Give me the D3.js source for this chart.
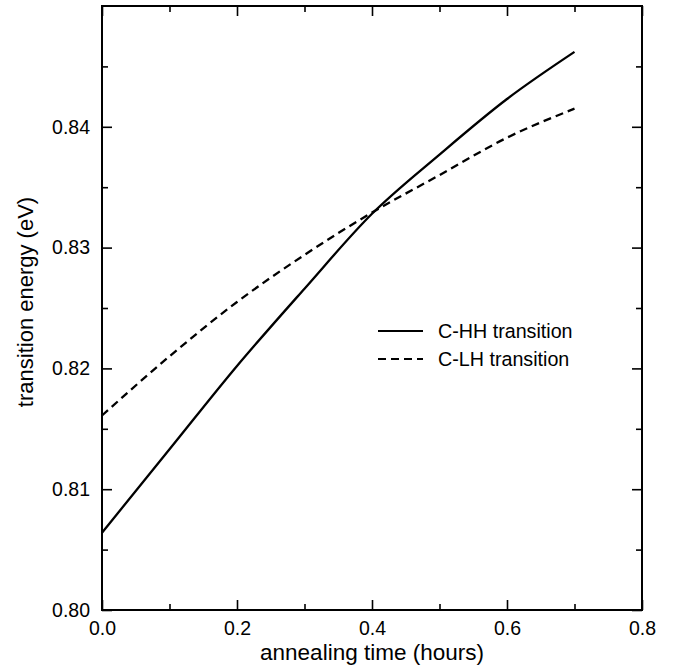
<!DOCTYPE html>
<html>
<head>
<meta charset="utf-8">
<script src="https://cdn.jsdelivr.net/npm/d3@7"></script>
<style>
  body { margin: 0; background: #fff; }
  text { font-family: "Liberation Sans", Arial, sans-serif; fill: #000; }
</style>
</head>
<body>
<div id="chart"></div>
<script>
// values
var times = [0, 0.1, 0.2, 0.3, 0.4, 0.5, 0.6, 0.7];
var hhEnergy = [0.8064, 0.8133, 0.8202, 0.8266, 0.8328, 0.8377, 0.8423, 0.8462];
var lhEnergy = [0.8161, 0.8210, 0.8255, 0.8294, 0.8329, 0.8360, 0.8391, 0.8415];
var seriesNames = ["C-HH transition", "C-LH transition"];
var xMajor = [0, 0.2, 0.4, 0.6, 0.8];
var xMinor = [0.1, 0.3, 0.5, 0.7];
var yMajor = [0.80, 0.81, 0.82, 0.83, 0.84];
var yMinor = [0.805, 0.815, 0.825, 0.835, 0.845];

var w = 674;
var h = 669;
var plotL = 102, plotR = 642, plotT = 6, plotB = 610;

var svg = d3.select("#chart")
  .append("svg")
  .attr("width", w)
  .attr("height", h);

var x = d3.scaleLinear().domain([0, 0.8]).range([plotL, plotR]);
var y = d3.scaleLinear().domain([0.80, 0.85]).range([plotB, plotT]);

//ticks on all four sides, pointing in
function ticks(axis, vals, len, labels, pad) {
  return axis
    .tickValues(vals)
    .tickSizeInner(-len)
    .tickSizeOuter(0)
    .tickPadding(pad || 3)
    .tickFormat(labels ? labels : "");
}

svg.append("g").attr("transform", "translate(0," + plotB + ")")
  .call(ticks(d3.axisBottom(x), xMajor, 10, d3.format(".1f"), 11));
svg.append("g").attr("transform", "translate(0," + plotB + ")")
  .call(ticks(d3.axisBottom(x), xMinor, 6));
svg.append("g").attr("transform", "translate(0," + plotT + ")")
  .call(ticks(d3.axisTop(x), xMajor, 10));
svg.append("g").attr("transform", "translate(0," + plotT + ")")
  .call(ticks(d3.axisTop(x), xMinor, 6));

svg.append("g").attr("transform", "translate(" + plotL + ",0)")
  .call(ticks(d3.axisLeft(y), yMajor, 10, d3.format(".2f"), 12));
svg.append("g").attr("transform", "translate(" + plotL + ",0)")
  .call(ticks(d3.axisLeft(y), yMinor, 6));
svg.append("g").attr("transform", "translate(" + plotR + ",0)")
  .call(ticks(d3.axisRight(y), yMajor, 10));
svg.append("g").attr("transform", "translate(" + plotR + ",0)")
  .call(ticks(d3.axisRight(y), yMinor, 6));

svg.selectAll(".domain").remove();
svg.selectAll(".tick line").attr("stroke", "#000").attr("stroke-width", 1.6);
svg.selectAll(".tick text")
  .attr("font-family", null)
  .style("font-size", "19.5px");

//frame
svg.append("rect")
  .attr("x", plotL)
  .attr("y", plotT)
  .attr("width", plotR - plotL)
  .attr("height", plotB - plotT)
  .attr("fill", "none")
  .attr("stroke", "#000")
  .attr("stroke-width", 2);

//curves
var line = d3.line()
  .x(function(d) { return x(d[0]); })
  .y(function(d) { return y(d[1]); })
  .curve(d3.curveMonotoneX);

var series = [
  { name: seriesNames[0], values: hhEnergy, dash: null },
  { name: seriesNames[1], values: lhEnergy, dash: "8,5" }
];

svg.selectAll("path.curve")
  .data(series)
  .enter()
  .append("path")
  .attr("class", "curve")
  .attr("d", function(s) { return line(d3.zip(times, s.values)); })
  .attr("fill", "none")
  .attr("stroke", "#000")
  .attr("stroke-width", 2.3)
  .attr("stroke-dasharray", function(s) { return s.dash; });

//legend
var legend = svg.selectAll("g.legend")
  .data(series)
  .enter()
  .append("g")
  .attr("class", "legend")
  .attr("transform", function(d, i) { return "translate(378," + (331 + i * 28) + ")"; });

legend.append("line")
  .attr("x1", 0)
  .attr("x2", 45)
  .attr("stroke", "#000")
  .attr("stroke-width", 2)
  .attr("stroke-dasharray", function(s) { return s.dash; });

legend.append("text")
  .attr("x", 60)
  .attr("dy", "0.35em")
  .style("font-size", "19.7px")
  .text(function(s) { return s.name; });

//axis titles
svg.append("text")
  .attr("x", (plotL + plotR) / 2)
  .attr("y", 660)
  .style("text-anchor", "middle")
  .style("font-size", "22.5px")
  .text("annealing time (hours)");

svg.append("text")
  .attr("transform", "translate(25," + 302 + ") rotate(-90)")
  .attr("dy", "0.35em")
  .style("text-anchor", "middle")
  .style("font-size", "22px")
  .text("transition energy (eV)");
</script>
</body>
</html>
